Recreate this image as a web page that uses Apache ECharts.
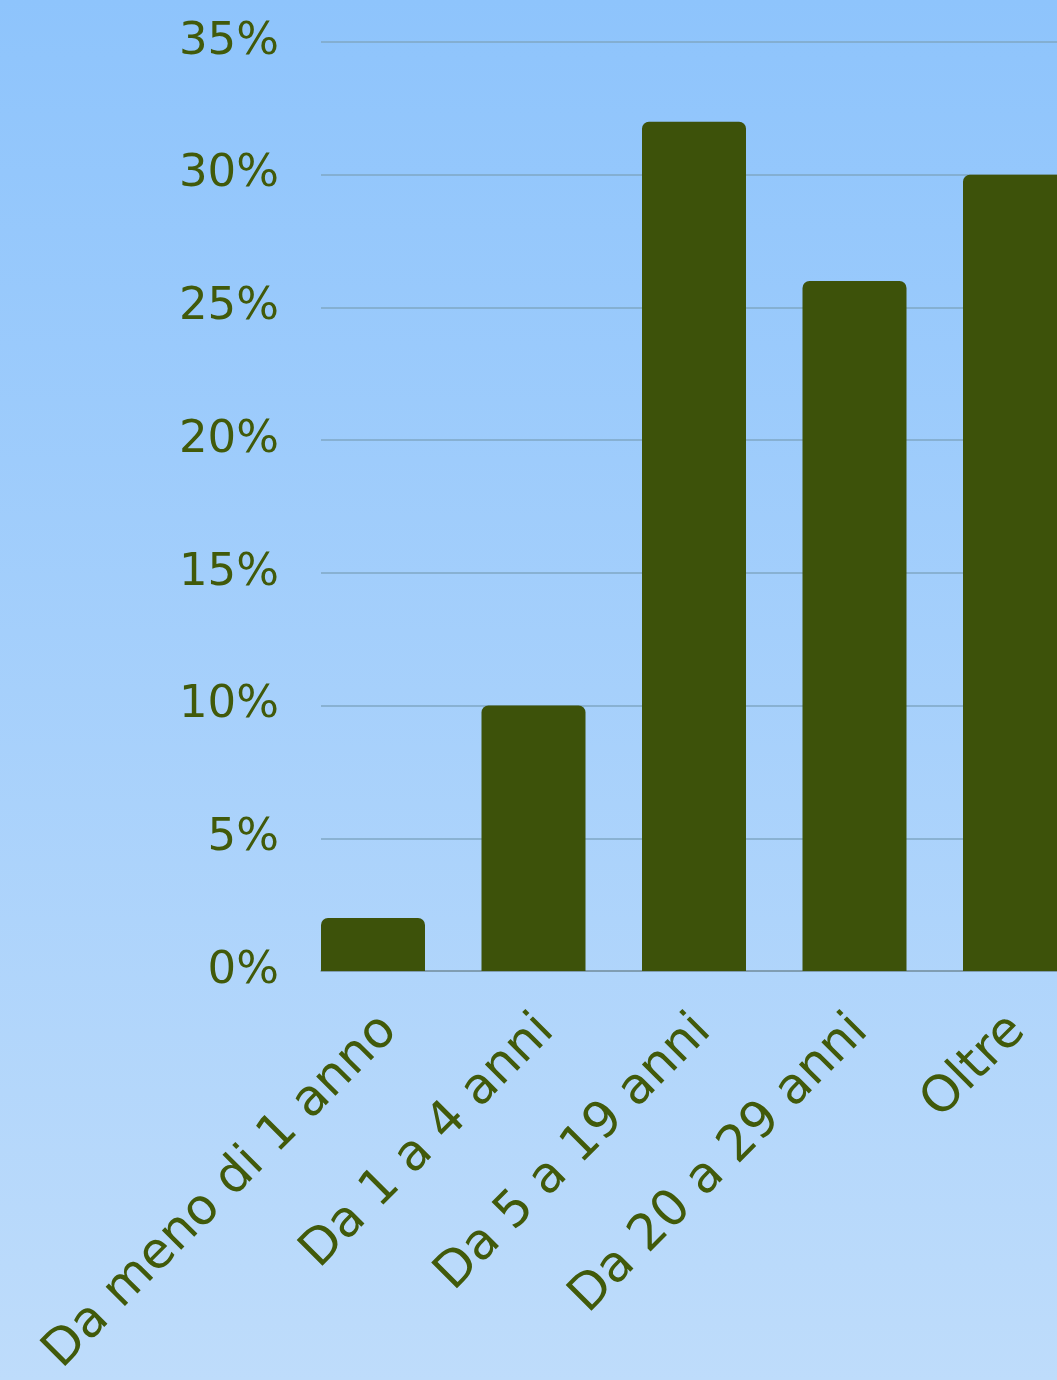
<!DOCTYPE html>
<html>
<head>
<meta charset="utf-8">
<script src="https://cdn.jsdelivr.net/npm/echarts@6/dist/echarts.min.js"></script>
<style>html,body{margin:0;padding:0;overflow:hidden;width:1057px;height:1380px;}#c{width:1096px;height:1380px;}</style>
</head>
<body>
<div id="c"></div>
<script>
const categories = ['Da meno di 1 anno', 'Da 1 a 4 anni', 'Da 5 a 19 anni', 'Da 20 a 29 anni', 'Oltre'];
const values = [2, 10, 32, 26, 30];
const yTicks = [0, 5, 10, 15, 20, 25, 30, 35];

const textColor = '#415a0a';
const font = 'DejaVu Sans';
const chart = echarts.init(document.getElementById('c'));
chart.setOption({
  animation: false,
  backgroundColor: new echarts.graphic.LinearGradient(0, 0, 0, 1, [
    {offset: 0, color: '#8ec4fc'},
    {offset: 1, color: '#bedcfb'}
  ]),
  grid: [
    {left: 292.75, width: 802.5, top: 42, bottom: 409},
    {left: 321, right: 0, top: 42, bottom: 409},
    {left: 311, width: 802.5, top: 42, bottom: 409}
  ],
  xAxis: [
    {
      type: 'category', gridIndex: 0, data: categories,
      axisLine: {show: false}, axisTick: {show: false}, axisLabel: {show: false}
    },
    {
      type: 'value', gridIndex: 1, min: 0, max: 1,
      axisLine: {show: true, lineStyle: {color: '#7e97a8', width: 1.5}},
      axisTick: {show: false}, axisLabel: {show: false}, splitLine: {show: false}
    },
    {
      type: 'category', gridIndex: 2, data: categories,
      axisLine: {show: false}, axisTick: {show: false},
      axisLabel: {rotate: 45, margin: 54, color: textColor, fontFamily: font, fontSize: 50, interval: 0}
    }
  ],
  yAxis: [
    {type: 'value', gridIndex: 0, min: 0, max: 35, interval: 5, show: false, splitLine: {show: false}},
    {
      type: 'value', gridIndex: 1, min: yTicks[0], max: yTicks[yTicks.length - 1], interval: 5,
      axisLine: {show: false}, axisTick: {show: false},
      axisLabel: {margin: 42, color: textColor, fontFamily: font, fontSize: 45, formatter: v => v + '%'},
      splitLine: {lineStyle: {color: '#7fa7c4', width: 1.5}}
    },
    {type: 'value', gridIndex: 2, min: 0, max: 35, interval: 5, show: false, splitLine: {show: false}}
  ],
  series: [{
    type: 'bar', xAxisIndex: 0, yAxisIndex: 0, data: values, barWidth: 104,
    itemStyle: {color: '#3d520a', borderRadius: [7, 7, 0, 0]}
  }]
});
</script>
</body>
</html>
